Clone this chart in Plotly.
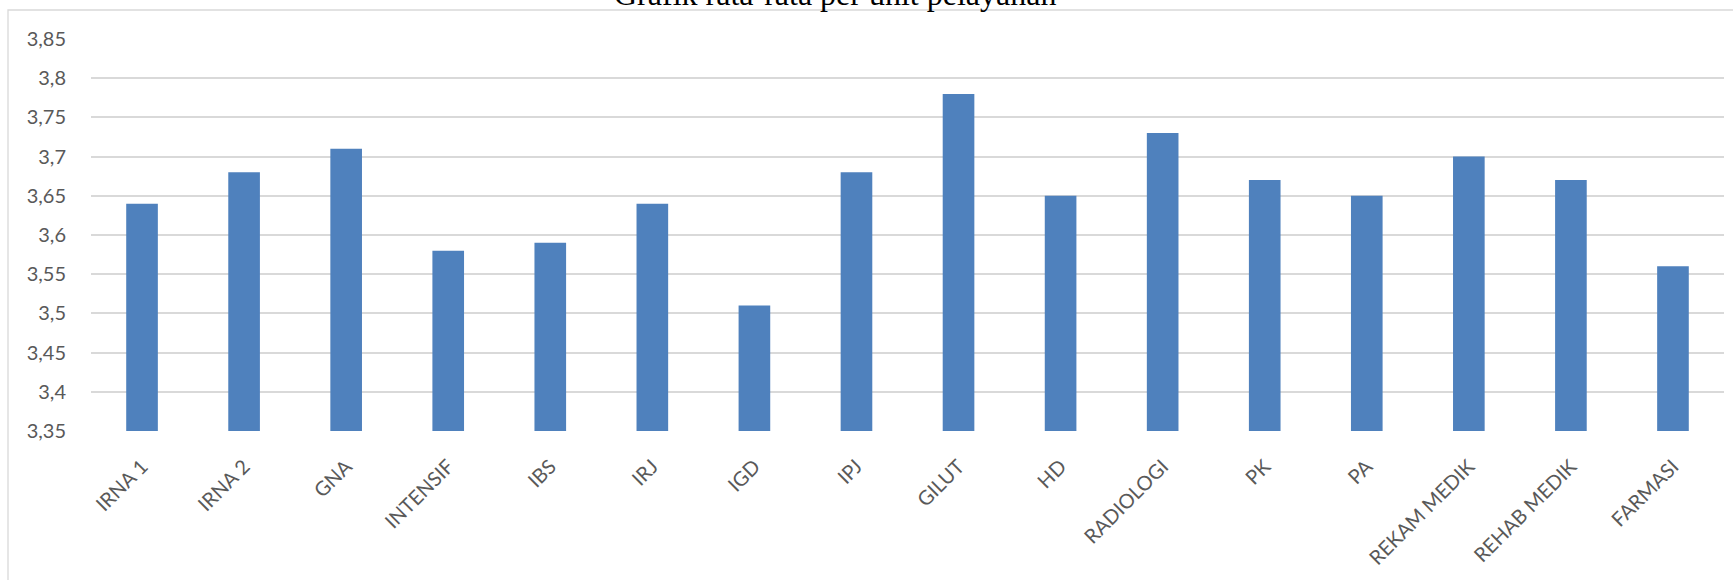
import plotly.graph_objects as go

categories = ["IRNA 1", "IRNA 2", "GNA", "INTENSIF", "IBS", "IRJ", "IGD", "IPJ",
              "GILUT", "HD", "RADIOLOGI", "PK", "PA", "REKAM MEDIK", "REHAB MEDIK", "FARMASI"]
values = [3.64, 3.68, 3.71, 3.58, 3.59, 3.64, 3.51, 3.68,
          3.78, 3.65, 3.73, 3.67, 3.65, 3.70, 3.67, 3.56]
y_tickvals = [3.35, 3.40, 3.45, 3.50, 3.55, 3.60, 3.65, 3.70, 3.75, 3.80, 3.85]
y_ticktext = ["3,35", "3,4", "3,45", "3,5", "3,55", "3,6", "3,65", "3,7", "3,75", "3,8", "3,85"]
title_text = "Grafik rata-rata per unit pelayanan"

W, H = 1733, 580
L, R, T, B = 91, 9, 39, 149
pw, ph = W - L - R, H - T - B

def px_x(px):
    return (px - L) / pw

def px_y(py):
    return (H - B - py) / ph

fig = go.Figure(go.Bar(
    x=categories, y=values,
    marker=dict(color="#4f81bd", line=dict(width=0)),
))

fig.update_layout(
    width=W, height=H,
    margin=dict(l=L, r=R, t=T, b=B, autoexpand=False),
    paper_bgcolor="white", plot_bgcolor="white",
    bargap=0.69,
    showlegend=False,
    font=dict(family="Lato", size=20, color="#595959"),
    shapes=[dict(type="rect", xref="paper", yref="paper",
                 x0=px_x(8), x1=px_x(1760), y0=px_y(620), y1=px_y(10),
                 line=dict(color="#d9d9d9", width=1.3), fillcolor="rgba(0,0,0,0)",
                 layer="below")],
    annotations=[dict(text=title_text, xref="paper", yref="paper",
                      x=px_x(835), y=px_y(14), xanchor="center", yanchor="bottom",
                      showarrow=False,
                      font=dict(family="Liberation Serif", size=32, color="black"))],
)

fig.update_yaxes(
    range=[3.35, 3.85], tickvals=y_tickvals, ticktext=y_ticktext,
    showgrid=True, gridcolor="#d9d9d9", gridwidth=1.5,
    zeroline=False, showline=False,
    ticks="outside", ticklen=20, tickcolor="rgba(0,0,0,0)",
    tickfont=dict(family="Lato", size=20, color="#595959"),
)
fig.update_xaxes(
    tickangle=-45, showgrid=False, showline=False, zeroline=False,
    ticks="outside", ticklen=15, tickcolor="rgba(0,0,0,0)",
    tickfont=dict(family="Lato", size=20, color="#595959"),
)

fig.write_html("out.html")
